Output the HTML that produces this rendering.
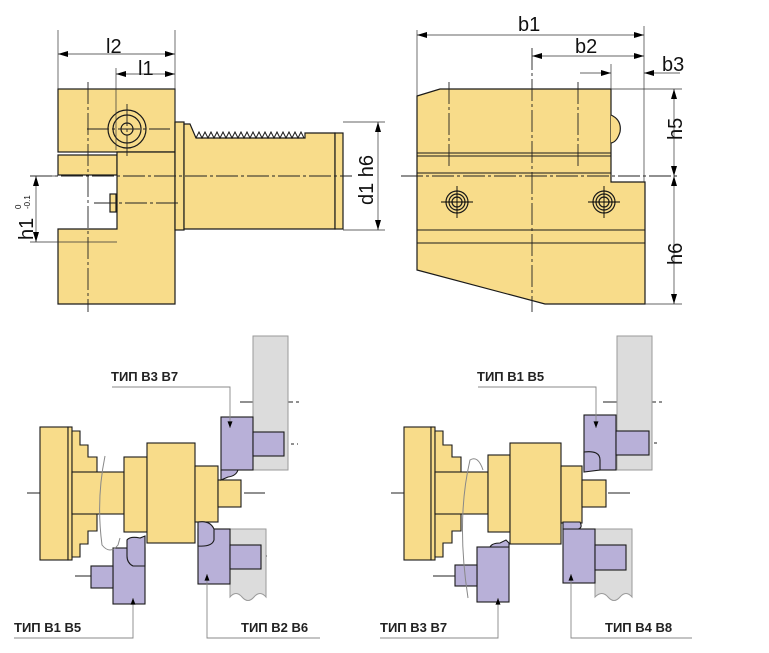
<!DOCTYPE html>
<html><head><meta charset="utf-8"><style>html,body{margin:0;padding:0;background:#fff}svg{display:block}</style></head>
<body>
<svg width="769" height="653" viewBox="0 0 769 653" xmlns="http://www.w3.org/2000/svg" font-family="Liberation Sans, Arial, sans-serif">
<defs>
<marker id="a" viewBox="0 0 10 6" refX="10" refY="3" markerWidth="10" markerHeight="6" orient="auto-start-reverse" markerUnits="userSpaceOnUse"><path d="M0,0 L10,3 L0,6 Z" fill="#000"/></marker>
<marker id="s" viewBox="0 0 8 6" refX="8" refY="3" markerWidth="7" markerHeight="5" orient="auto" markerUnits="userSpaceOnUse"><path d="M0,0 L8,3 L0,6 Z" fill="#000"/></marker>
</defs>
<g stroke="#1a1a1a" stroke-width="1.2" fill="#f8dc8a">
<rect x="58" y="89" width="117" height="63"/>
<rect x="58" y="155" width="59" height="20"/>
<path d="M117,175 L117,229 L58,229 L58,304 L175,304 L175,152 L117,152 Z"/>
<rect x="175" y="122" width="9" height="108"/>
<path d="M184,124 L190,124 L196,138 L305,138 L305,133 L335,133 L335,229 L184,229 Z"/>
<rect x="335" y="133" width="8" height="96"/>
<path d="M196,138 l3,-6 l3,6 l3,-6 l3,6 l3,-6 l3,6 l3,-6 l3,6 l3,-6 l3,6 l3,-6 l3,6 l3,-6 l3,6 l3,-6 l3,6 l3,-6 l3,6 l3,-6 l3,6 l3,-6 l3,6 l3,-6 l3,6 l3,-6 l3,6 l3,-6 l3,6 l3,-6 l3,6 l3,-6 l3,6 l3,-6 l3,6 l3,-6 l3,6" fill="none" stroke-width="1"/>
<rect x="110" y="194" width="6" height="18"/>
<circle cx="127" cy="129" r="19" fill="none"/><circle cx="127" cy="129" r="14" fill="none"/><circle cx="127" cy="129" r="6" fill="none"/>
<path d="M417,96 L440,89 L611,89 L611,182 L645,182 L645,304 L545,304 L417,270 Z"/>
<path d="M611,115 Q622,120 620,132 Q617,142 611,143" />
<circle cx="457" cy="202" r="11" fill="none"/><circle cx="457" cy="202" r="8" fill="none"/><circle cx="457" cy="202" r="5" fill="none"/>
<circle cx="604" cy="202" r="11" fill="none"/><circle cx="604" cy="202" r="8" fill="none"/><circle cx="604" cy="202" r="5" fill="none"/>
</g>
<g stroke="#1a1a1a" stroke-width="1" fill="none">
<line x1="417" y1="153" x2="611" y2="153"/><line x1="417" y1="156" x2="611" y2="156"/>
<line x1="417" y1="173" x2="611" y2="173"/>
<line x1="417" y1="230" x2="645" y2="230"/><line x1="417" y1="243" x2="645" y2="243"/>
</g>
<g stroke="#222" stroke-width="0.9" stroke-dasharray="22,3,3,3" fill="none">
<line x1="30" y1="176" x2="352" y2="176"/>
<line x1="88" y1="82" x2="88" y2="312"/>
<line x1="127" y1="104" x2="127" y2="156"/><line x1="87" y1="129" x2="170" y2="129"/>
<line x1="94" y1="203" x2="180" y2="203"/>
<line x1="401" y1="176" x2="680" y2="176"/>
<line x1="532" y1="48" x2="532" y2="312"/>
<line x1="449" y1="82" x2="449" y2="168"/><line x1="578" y1="82" x2="578" y2="168"/>
<line x1="27" y1="493" x2="265" y2="493"/>
<line x1="391" y1="493" x2="630" y2="493"/>
<line x1="240" y1="402" x2="302" y2="402"/><line x1="235" y1="444" x2="298" y2="444"/>
<line x1="208" y1="556" x2="268" y2="556"/><line x1="75" y1="576" x2="120" y2="576"/>
<line x1="603" y1="402" x2="664" y2="402"/><line x1="598" y1="443" x2="660" y2="443"/>
<line x1="570" y1="556" x2="632" y2="556"/><line x1="433" y1="576" x2="495" y2="576"/>
</g>
<g stroke="#000" stroke-width="0.9" fill="none">
<line x1="441" y1="202" x2="473" y2="202"/><line x1="457" y1="186" x2="457" y2="218"/>
<line x1="588" y1="202" x2="620" y2="202"/><line x1="604" y1="186" x2="604" y2="218"/>
</g>
<g stroke="#333" stroke-width="0.7" fill="none">
<line x1="58" y1="30" x2="58" y2="89"/><line x1="175" y1="30" x2="175" y2="122"/><line x1="116" y1="68" x2="116" y2="150"/>
<line x1="58" y1="54" x2="175" y2="54" marker-start="url(#a)" marker-end="url(#a)"/>
<line x1="116" y1="74" x2="175" y2="74" marker-start="url(#a)" marker-end="url(#a)"/>
<line x1="343" y1="122" x2="385" y2="122"/><line x1="343" y1="230" x2="385" y2="230"/>
<line x1="378" y1="122" x2="378" y2="230" marker-start="url(#a)" marker-end="url(#a)"/>
<line x1="30" y1="176" x2="58" y2="176"/><line x1="30" y1="242" x2="117" y2="242"/>
<line x1="36" y1="176" x2="36" y2="242" marker-start="url(#a)" marker-end="url(#a)"/>
<line x1="417" y1="30" x2="417" y2="96"/><line x1="644" y1="26" x2="644" y2="182"/><line x1="611" y1="64" x2="611" y2="89"/>
<line x1="417" y1="35" x2="644" y2="35" marker-start="url(#a)" marker-end="url(#a)"/>
<line x1="532" y1="56" x2="644" y2="56" marker-start="url(#a)" marker-end="url(#a)"/>
<line x1="580" y1="73" x2="611" y2="73" marker-end="url(#a)"/>
<line x1="680" y1="73" x2="644" y2="73" marker-end="url(#a)"/>
<line x1="611" y1="89" x2="682" y2="89"/><line x1="645" y1="304" x2="682" y2="304"/>
<line x1="674" y1="89" x2="674" y2="176" marker-start="url(#a)" marker-end="url(#a)"/>
<line x1="674" y1="176" x2="674" y2="304" marker-start="url(#a)" marker-end="url(#a)"/>
</g>
<g font-size="20" fill="#111">
<text x="106" y="53">l2</text><text x="138" y="75">l1</text>
<text x="518" y="31">b1</text><text x="575" y="53">b2</text><text x="662" y="71">b3</text>
<text transform="translate(373,205) rotate(-90)">d1  h6</text>
<text transform="translate(682,140) rotate(-90)">h5</text>
<text transform="translate(682,265) rotate(-90)">h6</text>
<text transform="translate(33,240) rotate(-90)">h1</text>
<text transform="translate(30,209) rotate(-90)" font-size="8">-0.1</text>
<text transform="translate(21,209) rotate(-90)" font-size="8">0</text>
</g>
<g stroke="#9a9a9a" stroke-width="1" fill="#dcdcdc">
<rect x="253" y="336" width="35" height="134"/>
<path d="M230,529 L266,529 L266,597 Q260,590 254,597 Q248,604 242,597 Q236,590 230,597 Z"/>
<rect x="617" y="336" width="35" height="134"/>
<path d="M595,529 L632,529 L632,597 Q626,590 620,597 Q614,604 608,597 Q602,590 595,597 Z"/>
</g>
<g stroke="#1a1a1a" stroke-width="1.1" fill="#f8dc8a">
<rect x="40" y="427" width="28" height="133"/><rect x="68" y="427" width="4" height="133"/>
<path d="M72,431 L80,431 L80,445 L88,445 L88,457 L97,457 L97,531 L88,531 L88,544 L80,544 L80,557 L72,557 Z"/>
<rect x="72" y="472" width="52" height="42"/>
<rect x="124" y="457" width="23" height="75"/>
<rect x="147" y="443" width="48" height="100"/>
<rect x="195" y="466" width="23" height="56"/>
<rect x="218" y="480" width="23" height="27"/>
<rect x="404" y="427" width="27" height="133"/><rect x="431" y="427" width="4" height="133"/>
<path d="M435,431 L443,431 L443,445 L452,445 L452,457 L461,457 L461,531 L452,531 L452,543 L443,543 L443,557 L435,557 Z"/>
<rect x="435" y="472" width="53" height="42"/>
<rect x="488" y="455" width="22" height="77"/>
<rect x="510" y="443" width="51" height="101"/>
<rect x="561" y="466" width="21" height="57"/>
<rect x="582" y="480" width="24" height="27"/>
</g>
<g stroke="#1a1a1a" stroke-width="1.1" fill="#b8b0d8">
<rect x="221" y="417" width="32" height="53"/><rect x="253" y="432" width="31" height="24"/>
<path d="M221,470 L238,470 Q236,476 228,477 L221,480 Z"/>
<rect x="198" y="529" width="32" height="55"/><rect x="230" y="545" width="31" height="24"/>
<path d="M198,522 Q210,520 214,529 L214,540 Q212,547 198,546 Z"/>
<rect x="113" y="548" width="32" height="56"/><rect x="91" y="566" width="22" height="22"/>
<path d="M127,548 L127,540 Q130,536 140,538 L145,536 L145,566 L133,566 Q127,563 127,556 Z"/>
<rect x="584" y="415" width="32" height="55"/><rect x="616" y="431" width="33" height="24"/>
<path d="M584,452 Q600,450 600,460 L600,470 L584,472 Z"/>
<rect x="563" y="529" width="32" height="54"/><rect x="595" y="545" width="31" height="25"/>
<path d="M563,522 L580,522 Q583,528 578,529 L563,529 Z"/>
<rect x="477" y="547" width="32" height="55"/><rect x="455" y="565" width="22" height="21"/>
<path d="M490,547 Q492,543 500,543 L506,540 L509,543 L509,547 Z"/>
</g>
<g stroke="#888" stroke-width="1" fill="none">
<path d="M105,456 Q96,500 102,545 Q110,555 118,545 L120,538"/>
<path d="M468,598 Q456,520 470,460 Q478,455 483,470"/>
</g>
<g stroke="#888" stroke-width="0.9" fill="none">
<path d="M112,387 L230,387 L230,428" marker-end="url(#s)"/>
<path d="M14,638 L133,638 L133,598" marker-end="url(#s)"/>
<path d="M320,638 L207,638 L207,574" marker-end="url(#s)"/>
<path d="M478,387 L596,387 L596,428" marker-end="url(#s)"/>
<path d="M380,638 L498,638 L498,598" marker-end="url(#s)"/>
<path d="M692,638 L571,638 L571,574" marker-end="url(#s)"/>
</g>
<g font-size="13" font-weight="bold" fill="#222">
<text x="111" y="381">ТИП B3 B7</text>
<text x="477" y="381">ТИП B1 B5</text>
<text x="14" y="632">ТИП B1 B5</text>
<text x="241" y="632">ТИП B2 B6</text>
<text x="380" y="632">ТИП B3 B7</text>
<text x="605" y="632">ТИП B4 B8</text>
</g>
</svg>
</body></html>
